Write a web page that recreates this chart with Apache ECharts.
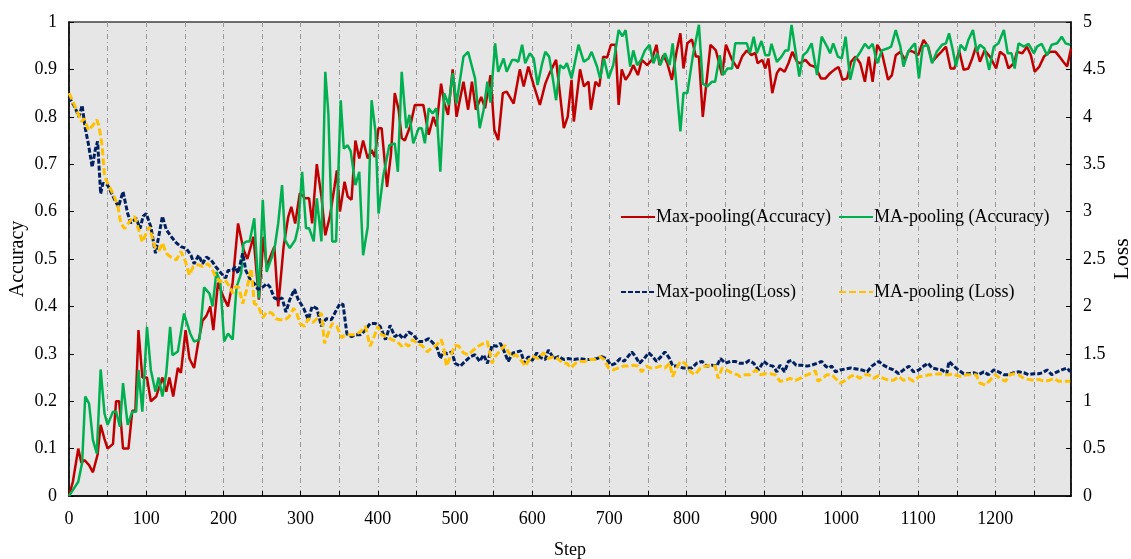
<!DOCTYPE html>
<html>
<head>
<meta charset="utf-8">
<script src="https://cdn.jsdelivr.net/npm/echarts@6/dist/echarts.min.js"></script>
<style>
  html, body { margin: 0; padding: 0; background: #ffffff; }
  #chart { width: 1131px; height: 559px; }
</style>
</head>
<body>
<div id="chart"></div>
<script>
// Training curves: accuracy (left axis) and loss (right axis) over training steps.

const seriesNames = ['Max-pooling(Accuracy)', 'MA-pooling (Accuracy)', 'Max-pooling(Loss)', 'MA-pooling (Loss)'];

const maxAccSteps = [0,5,12,16,20,26,31,37,41,46,50,57,61,65,70,77,82,86,90,95,101,106,113,117,121,126,130,135,141,145,151,156,162,167,173,178,183,187,193,200,206,212,219,226,231,239,246,252,256,262,266,271,278,284,288,293,299,306,311,315,321,327,332,338,344,347,351,357,361,366,371,376,381,387,392,396,401,405,412,417,422,427,431,435,442,448,459,466,472,476,482,486,491,497,502,511,517,522,527,534,539,546,551,556,562,567,576,584,589,595,602,610,617,622,631,641,646,651,654,662,667,673,676,682,687,692,697,702,708,712,716,721,726,731,737,742,749,755,761,765,770,775,781,787,792,796,801,807,812,816,821,831,838,846,851,859,866,872,878,884,889,892,898,902,906,911,917,921,927,932,937,943,947,954,960,967,974,980,986,992,997,1002,1008,1013,1019,1025,1031,1036,1041,1047,1053,1061,1066,1071,1077,1083,1088,1094,1100,1107,1113,1118,1124,1130,1136,1142,1147,1153,1159,1165,1170,1175,1180,1186,1193,1201,1206,1212,1217,1224,1228,1235,1241,1246,1251,1257,1263,1271,1278,1283,1288,1293,1298];
const maxAccValues = [0,0.03,0.10,0.07,0.076,0.065,0.05,0.087,0.15,0.12,0.10,0.11,0.20,0.20,0.10,0.10,0.18,0.18,0.35,0.25,0.25,0.20,0.21,0.23,0.25,0.22,0.25,0.21,0.27,0.26,0.35,0.29,0.27,0.32,0.37,0.38,0.40,0.35,0.45,0.42,0.40,0.45,0.575,0.52,0.50,0.547,0.414,0.547,0.484,0.51,0.526,0.40,0.526,0.589,0.61,0.575,0.639,0.628,0.628,0.575,0.70,0.632,0.55,0.59,0.653,0.687,0.60,0.663,0.632,0.625,0.75,0.712,0.75,0.712,0.73,0.715,0.776,0.776,0.652,0.72,0.85,0.815,0.755,0.75,0.78,0.825,0.825,0.762,0.80,0.78,0.87,0.83,0.804,0.90,0.80,0.874,0.815,0.874,0.815,0.842,0.818,0.888,0.772,0.751,0.85,0.853,0.828,0.90,0.864,0.906,0.867,0.825,0.87,0.89,0.92,0.776,0.80,0.878,0.79,0.90,0.864,0.874,0.815,0.874,0.864,0.927,0.925,0.952,0.952,0.825,0.90,0.878,0.89,0.909,0.888,0.92,0.909,0.92,0.952,0.909,0.93,0.913,0.878,0.937,0.976,0.902,0.955,0.963,0.927,0.927,0.80,0.952,0.94,0.888,0.952,0.92,0.902,0.927,0.94,0.93,0.935,0.913,0.92,0.902,0.923,0.85,0.892,0.902,0.895,0.913,0.937,0.916,0.913,0.92,0.909,0.905,0.881,0.881,0.892,0.90,0.905,0.878,0.881,0.916,0.927,0.913,0.874,0.927,0.874,0.952,0.935,0.878,0.888,0.93,0.937,0.92,0.94,0.937,0.93,0.962,0.948,0.916,0.927,0.937,0.948,0.902,0.902,0.94,0.899,0.902,0.923,0.948,0.916,0.94,0.927,0.902,0.937,0.93,0.902,0.913,0.937,0.934,0.948,0.93,0.895,0.906,0.927,0.937,0.937,0.927,0.916,0.906,0.944];

const maAccSteps = [0,6,12,17,21,26,31,36,41,46,50,57,61,66,70,76,82,87,90,95,101,106,112,116,121,126,131,134,141,149,157,162,169,175,182,186,191,196,201,206,212,217,223,226,230,234,240,246,251,256,263,267,271,276,280,286,293,297,302,307,311,317,321,327,332,336,341,346,352,356,361,365,371,376,381,387,392,397,401,407,415,422,426,431,437,441,446,453,457,461,466,471,476,481,486,492,497,502,511,517,522,526,532,537,542,546,552,556,563,567,574,578,582,587,591,597,602,607,613,617,622,627,631,636,641,645,651,660,667,673,677,684,688,693,699,705,712,717,721,727,731,736,741,746,752,757,762,766,772,778,782,787,792,796,801,808,816,821,827,833,837,843,847,853,859,863,878,882,887,891,897,902,907,910,917,923,928,932,936,941,946,951,956,962,969,975,982,986,990,996,1001,1006,1012,1018,1024,1031,1036,1041,1047,1053,1060,1065,1071,1077,1081,1087,1092,1096,1101,1106,1112,1118,1124,1131,1136,1140,1145,1149,1155,1161,1165,1171,1176,1180,1186,1192,1198,1204,1211,1216,1221,1225,1230,1237,1243,1250,1254,1260,1267,1273,1280,1286,1291,1297];
const maAccValues = [0,0.015,0.03,0.07,0.21,0.195,0.118,0.09,0.267,0.174,0.15,0.178,0.178,0.146,0.238,0.15,0.178,0.178,0.266,0.178,0.357,0.266,0.22,0.25,0.21,0.259,0.357,0.297,0.305,0.385,0.343,0.326,0.33,0.44,0.427,0.40,0.473,0.45,0.326,0.343,0.33,0.44,0.47,0.533,0.537,0.537,0.586,0.417,0.625,0.473,0.505,0.53,0.575,0.656,0.54,0.523,0.54,0.568,0.684,0.565,0.565,0.537,0.628,0.537,0.895,0.807,0.537,0.537,0.835,0.733,0.74,0.727,0.656,0.684,0.508,0.568,0.835,0.769,0.596,0.674,0.74,0.744,0.684,0.895,0.776,0.804,0.744,0.776,0.776,0.744,0.818,0.807,0.818,0.684,0.85,0.825,0.892,0.828,0.927,0.937,0.906,0.881,0.776,0.814,0.874,0.83,0.955,0.895,0.923,0.895,0.92,0.92,0.916,0.952,0.913,0.934,0.923,0.867,0.913,0.937,0.927,0.878,0.835,0.909,0.902,0.913,0.881,0.952,0.916,0.923,0.937,0.906,0.881,0.923,0.881,0.909,0.983,0.97,0.983,0.906,0.94,0.909,0.92,0.94,0.952,0.913,0.934,0.909,0.934,0.909,0.955,0.864,0.769,0.85,0.85,0.927,0.994,0.87,0.864,0.874,0.874,0.93,0.888,0.902,0.902,0.955,0.955,0.934,0.969,0.934,0.96,0.93,0.93,0.954,0.916,0.927,0.94,0.94,0.994,0.94,0.885,0.93,0.937,0.955,0.888,0.969,0.948,0.934,0.955,0.927,0.923,0.969,0.878,0.92,0.934,0.954,0.944,0.954,0.913,0.94,0.944,0.948,0.983,0.948,0.906,0.937,0.948,0.955,0.881,0.948,0.952,0.913,0.937,0.952,0.955,0.976,0.94,0.906,0.952,0.94,0.962,0.983,0.937,0.952,0.944,0.899,0.948,0.955,0.983,0.934,0.934,0.902,0.955,0.948,0.954,0.934,0.948,0.954,0.93,0.952,0.955,0.969,0.955,0.952];

const maxLossSteps = [0,7,13,17,21,25,30,34,37,41,44,50,57,64,70,76,80,87,92,96,100,106,112,117,121,126,132,139,145,152,158,162,168,173,178,184,190,197,203,206,212,215,219,225,229,235,240,245,252,256,260,266,271,276,281,286,292,297,304,310,315,321,327,333,340,345,351,355,360,366,371,377,384,390,397,403,410,416,422,427,433,440,446,453,459,466,472,477,481,485,490,496,500,507,513,520,526,532,537,542,548,554,559,564,569,575,580,585,590,595,600,606,611,617,621,628,634,641,647,654,662,669,677,684,690,696,702,708,714,719,724,729,734,739,745,751,756,761,767,772,778,782,790,795,800,807,813,820,826,833,839,844,850,857,863,869,876,881,887,893,900,906,912,917,921,927,932,936,942,949,956,962,969,975,980,984,988,993,999,1006,1013,1020,1027,1034,1040,1049,1055,1062,1068,1075,1081,1088,1094,1101,1107,1113,1118,1124,1131,1137,1140,1146,1152,1159,1165,1172,1178,1185,1191,1198,1204,1211,1217,1224,1230,1237,1243,1250,1256,1261,1267,1273,1280,1286,1293,1297];
const maxLossValues = [4.21,4.11,4.0,4.12,3.88,3.72,3.47,3.65,3.74,3.19,3.30,3.28,3.16,3.05,3.21,2.98,2.88,2.93,2.82,2.95,2.98,2.84,2.56,2.77,2.95,2.81,2.74,2.67,2.63,2.61,2.54,2.45,2.54,2.45,2.52,2.49,2.42,2.35,2.30,2.38,2.38,2.42,2.35,2.56,2.38,2.28,2.24,2.18,2.21,2.24,2.21,2.09,2.07,2.09,1.94,2.07,2.18,2.07,1.98,1.86,2.0,1.98,1.79,1.87,1.86,1.94,2.03,2.02,1.71,1.68,1.70,1.70,1.75,1.82,1.82,1.79,1.65,1.80,1.68,1.71,1.66,1.73,1.70,1.63,1.63,1.66,1.61,1.56,1.45,1.52,1.50,1.52,1.40,1.37,1.42,1.47,1.49,1.42,1.49,1.40,1.59,1.58,1.61,1.52,1.42,1.51,1.52,1.53,1.40,1.47,1.43,1.51,1.46,1.44,1.54,1.45,1.47,1.44,1.45,1.44,1.45,1.44,1.44,1.45,1.47,1.45,1.38,1.40,1.45,1.42,1.47,1.52,1.47,1.40,1.45,1.51,1.47,1.42,1.47,1.52,1.45,1.37,1.37,1.35,1.35,1.35,1.40,1.42,1.37,1.38,1.37,1.45,1.40,1.42,1.42,1.40,1.40,1.43,1.40,1.33,1.42,1.38,1.37,1.31,1.38,1.31,1.42,1.43,1.38,1.38,1.37,1.38,1.40,1.42,1.37,1.35,1.37,1.31,1.33,1.34,1.35,1.34,1.33,1.31,1.37,1.42,1.38,1.35,1.33,1.29,1.33,1.37,1.31,1.33,1.37,1.40,1.35,1.34,1.33,1.29,1.42,1.37,1.33,1.29,1.29,1.30,1.28,1.31,1.28,1.33,1.31,1.28,1.28,1.30,1.31,1.30,1.28,1.29,1.29,1.30,1.33,1.28,1.31,1.33,1.35,1.31];

const maLossSteps = [0,5,11,16,20,25,31,36,39,43,46,50,57,63,67,72,78,85,89,95,100,104,111,117,121,126,132,139,145,151,156,161,167,173,180,185,190,196,202,208,212,216,220,225,230,236,240,245,251,256,263,268,273,280,285,291,295,299,305,310,316,321,327,331,336,341,347,353,358,364,370,377,384,390,394,400,405,412,418,425,431,435,440,445,451,457,464,470,476,482,485,489,494,500,505,511,517,524,530,537,542,548,552,559,565,569,574,579,584,591,597,602,608,615,621,628,633,640,645,650,656,662,669,675,681,688,693,699,705,711,718,724,731,737,742,748,753,759,766,772,778,782,787,792,798,805,811,818,824,831,837,841,846,852,856,861,866,869,876,882,890,895,902,908,915,921,928,934,941,947,954,960,967,970,976,982,988,993,999,1006,1012,1018,1024,1031,1036,1042,1049,1055,1062,1068,1075,1081,1088,1094,1101,1107,1114,1120,1127,1133,1140,1146,1150,1157,1163,1170,1175,1180,1187,1193,1200,1206,1213,1219,1224,1230,1237,1243,1250,1256,1263,1270,1276,1282,1289,1297];
const maLossValues = [4.25,4.16,4.05,3.95,3.98,3.86,3.91,3.97,3.90,3.69,3.37,3.30,3.19,3.07,2.88,2.82,2.89,2.95,2.84,2.68,2.77,2.84,2.63,2.59,2.67,2.56,2.52,2.49,2.58,2.47,2.33,2.42,2.44,2.42,2.45,2.40,2.31,2.26,2.28,2.21,2.14,2.21,2.20,2.03,2.17,2.40,2.03,2.01,1.88,1.94,1.93,1.87,1.86,1.86,1.89,1.98,1.93,1.82,1.79,1.87,1.83,1.87,1.93,1.61,1.72,1.82,1.79,1.67,1.70,1.70,1.70,1.73,1.79,1.58,1.65,1.79,1.70,1.68,1.65,1.63,1.58,1.61,1.58,1.65,1.61,1.59,1.52,1.56,1.59,1.65,1.58,1.37,1.47,1.59,1.58,1.51,1.49,1.54,1.58,1.61,1.63,1.40,1.47,1.54,1.59,1.52,1.47,1.49,1.45,1.37,1.45,1.47,1.45,1.51,1.45,1.47,1.45,1.40,1.40,1.35,1.40,1.42,1.42,1.44,1.44,1.47,1.44,1.35,1.33,1.35,1.37,1.37,1.38,1.37,1.31,1.37,1.35,1.35,1.37,1.35,1.40,1.26,1.35,1.42,1.40,1.31,1.28,1.35,1.37,1.38,1.37,1.24,1.35,1.33,1.31,1.29,1.28,1.26,1.28,1.28,1.33,1.28,1.29,1.29,1.28,1.21,1.22,1.24,1.22,1.24,1.27,1.29,1.32,1.21,1.24,1.28,1.28,1.24,1.19,1.22,1.26,1.28,1.24,1.28,1.28,1.24,1.27,1.24,1.22,1.22,1.26,1.22,1.24,1.21,1.26,1.26,1.28,1.28,1.29,1.28,1.28,1.29,1.27,1.26,1.28,1.28,1.28,1.19,1.17,1.22,1.28,1.24,1.21,1.28,1.29,1.28,1.24,1.23,1.22,1.23,1.21,1.22,1.24,1.21,1.21,1.21];

const accTicks = { min: 0, max: 1, interval: 0.1 };
const lossTicks = { min: 0, max: 5, interval: 0.5 };
const stepRange = { min: 0, max: 1298, interval: 50, labelEvery: 100 };

const FONT = '"Liberation Serif", "Times New Roman", serif';
const colors = ['#c00000', '#00b050', '#002060', '#ffc000'];

function pairs(xs, ys) {
  return xs.map((x, i) => [x, ys[i]]);
}

const chart = echarts.init(document.getElementById('chart'), null, { renderer: 'canvas' });

const axisText = { color: '#000', fontFamily: FONT, fontSize: 18 };

const legendCommon = {
  orient: 'vertical',
  top: 203,
  itemWidth: 34, itemHeight: 14, itemGap: 57,
  itemStyle: { opacity: 0 },
  textStyle: { fontFamily: FONT, fontSize: 18, color: '#000', padding: [0, 0, 0, -4] }
};

chart.setOption({
  animation: false,
  backgroundColor: '#ffffff',
  textStyle: { fontFamily: FONT },
  grid: {
    left: 69, right: 60, top: 22, bottom: 63,
    outerBoundsMode: 'none',
    containLabel: false,
    show: true,
    backgroundColor: '#e6e6e6',
    borderColor: '#404040',
    borderWidth: 1.5
  },
  legend: [
    Object.assign({}, legendCommon, { data: [seriesNames[0], seriesNames[2]], left: 615 }),
    Object.assign({}, legendCommon, { data: [seriesNames[1], seriesNames[3]], left: 833 })
  ],
  xAxis: {
    type: 'value',
    min: stepRange.min, max: stepRange.max, interval: stepRange.interval,
    name: 'Step', nameLocation: 'middle', nameGap: 45, nameMoveOverlap: false,
    nameTextStyle: { fontFamily: FONT, fontSize: 18, color: '#000' },
    axisLine: { show: true, lineStyle: { color: '#000', width: 1.5 } },
    axisTick: { show: true, inside: true, length: 5, lineStyle: { color: '#000' } },
    axisLabel: Object.assign({}, axisText, {
      margin: 14,
      showMaxLabel: false,
      formatter: v => (v % stepRange.labelEvery === 0 ? String(v) : '')
    }),
    splitLine: { show: true, lineStyle: { color: '#999999', width: 1, type: [5, 3, 1, 3] } }
  },
  yAxis: [
    {
      type: 'value',
      min: accTicks.min, max: accTicks.max, interval: accTicks.interval,
      name: 'Accuracy', nameLocation: 'middle', nameGap: 41, nameRotate: 90, nameMoveOverlap: false,
      nameTextStyle: { fontFamily: FONT, fontSize: 20, color: '#000' },
      axisLine: { show: true, lineStyle: { color: '#000', width: 1.5 } },
      axisTick: { show: true, inside: true, length: 5, lineStyle: { color: '#000' } },
      axisLabel: Object.assign({}, axisText, { margin: 12 }),
      splitLine: { show: false }
    },
    {
      type: 'value',
      position: 'right',
      min: lossTicks.min, max: lossTicks.max, interval: lossTicks.interval,
      name: 'Loss', nameLocation: 'middle', nameGap: 40, nameRotate: 90, nameMoveOverlap: false,
      nameTextStyle: { fontFamily: FONT, fontSize: 22, color: '#000' },
      axisLine: { show: true, lineStyle: { color: '#000', width: 1.5 } },
      axisTick: { show: true, inside: true, length: 5, lineStyle: { color: '#000' } },
      axisLabel: Object.assign({}, axisText, { margin: 12 }),
      splitLine: { show: false }
    }
  ],
  series: [
    {
      name: seriesNames[0], type: 'line', yAxisIndex: 0, symbol: 'none',
      data: pairs(maxAccSteps, maxAccValues),
      lineStyle: { color: colors[0], width: 2.5 }, itemStyle: { color: colors[0] }
    },
    {
      name: seriesNames[1], type: 'line', yAxisIndex: 0, symbol: 'none',
      data: pairs(maAccSteps, maAccValues),
      lineStyle: { color: colors[1], width: 2.5 }, itemStyle: { color: colors[1] }
    },
    {
      name: seriesNames[2], type: 'line', yAxisIndex: 1, symbol: 'none',
      data: pairs(maxLossSteps, maxLossValues),
      lineStyle: { color: colors[2], width: 3, type: [5, 2] }, itemStyle: { color: colors[2] }
    },
    {
      name: seriesNames[3], type: 'line', yAxisIndex: 1, symbol: 'none',
      data: pairs(maLossSteps, maLossValues),
      lineStyle: { color: colors[3], width: 3, type: [7, 3] }, itemStyle: { color: colors[3] }
    }
  ]
});
</script>
</body>
</html>
